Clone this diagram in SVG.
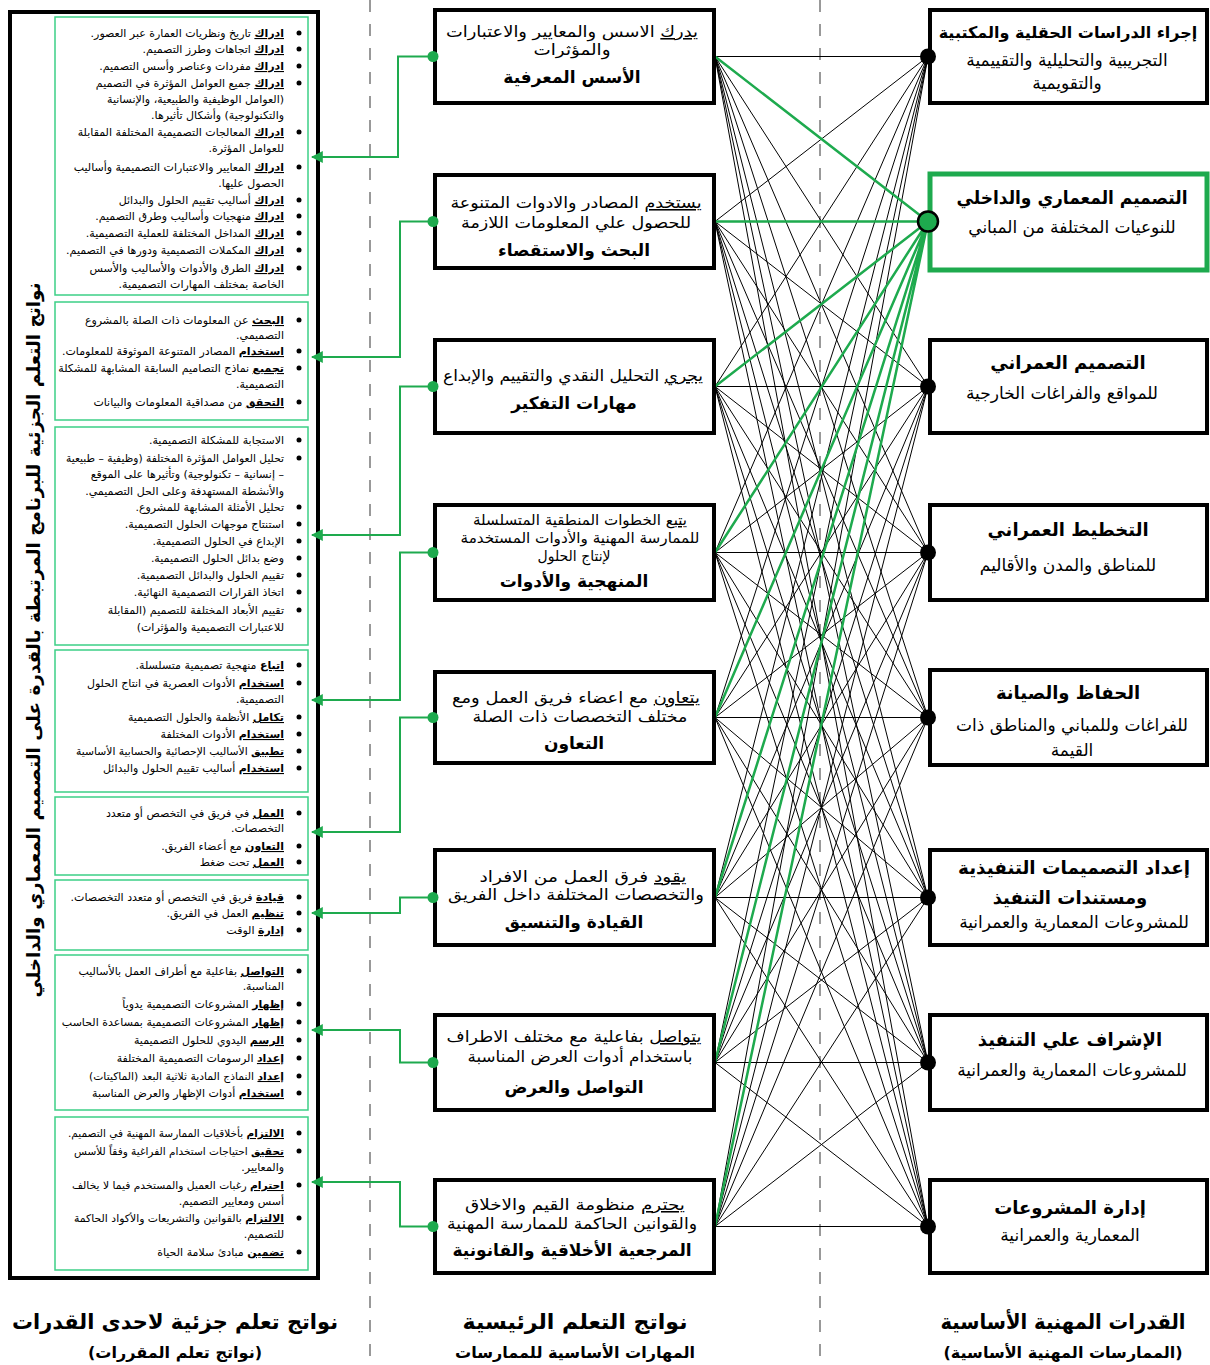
<svg xmlns="http://www.w3.org/2000/svg" width="1210" height="1365" viewBox="0 0 1210 1365">
<style>
text{font-family:"DejaVu Sans",sans-serif;fill:#000;direction:rtl;unicode-bidi:embed}
.lt{font-size:11px;text-anchor:start}
.u{text-decoration:underline;font-weight:bold}
.un{text-decoration:underline}
.mt{font-size:15.5px;text-anchor:middle}
.mb{font-size:17px;font-weight:bold;text-anchor:middle}
.rt{font-size:17px;text-anchor:middle}
.rb{font-size:18px;font-weight:bold;text-anchor:middle}
.hd{font-size:21px;font-weight:bold;text-anchor:middle}
.sh{font-size:16px;font-weight:bold;text-anchor:middle}
.gbox{fill:#fff;stroke:#3ccf86;stroke-width:1.5}
.box{fill:#fff;stroke:#000;stroke-width:4}
.blt{fill:#000}
.bl{stroke:#000;stroke-width:1;fill:none}
.gl{stroke:#1eaa4e;stroke-width:2.5;fill:none}
.ar{stroke:#1eaa4e;stroke-width:2;fill:none}
.dash{stroke:#999;stroke-width:2;stroke-dasharray:12 12}
</style>
<defs>
<marker id="ah" viewBox="0 0 10 10" refX="9" refY="5" markerWidth="6" markerHeight="6" orient="auto" markerUnits="strokeWidth">
<path d="M0 0L10 5L0 10z" fill="#1eaa4e"/>
</marker>
</defs>
<rect width="1210" height="1365" fill="#fff"/>
<line class="dash" x1="370" y1="0" x2="370" y2="1365"/>
<line class="dash" x1="820" y1="0" x2="820" y2="1365"/>

<g id="left-panel">
<rect x="10" y="12" width="308" height="1266" fill="#fff" stroke="#000" stroke-width="4"/>
<text transform="translate(40,640) rotate(-90)" class="hd" style="font-size:18px" textLength="715" lengthAdjust="spacingAndGlyphs">نواتج التعلم الجزئية للبرنامج المرتبطة بالقدرة على التصميم المعماري والداخلي</text>
</g>

<g id="lo-1">
<rect class="gbox" x="55" y="17" width="253" height="278"/>
<g class="blt"><circle cx="299" cy="33" r="2.5"/><circle cx="299" cy="49" r="2.5"/><circle cx="299" cy="66" r="2.5"/><circle cx="299" cy="83" r="2.5"/><circle cx="299" cy="132" r="2.5"/><circle cx="299" cy="167" r="2.5"/><circle cx="299" cy="200" r="2.5"/><circle cx="299" cy="216" r="2.5"/><circle cx="299" cy="233" r="2.5"/><circle cx="299" cy="250" r="2.5"/><circle cx="299" cy="268" r="2.5"/></g>
<text class="lt" x="284" y="37"><tspan class="u">ادراك</tspan> تاريخ ونظريات العمارة عبر العصور.</text>
<text class="lt" x="284" y="53"><tspan class="u">ادراك</tspan> اتجاهات وطرز التصميم.</text>
<text class="lt" x="284" y="70"><tspan class="u">ادراك</tspan> مفردات وعناصر وأسس التصميم.</text>
<text class="lt" x="284" y="87"><tspan class="u">ادراك</tspan> جميع العوامل المؤثرة في التصميم</text>
<text class="lt" x="284" y="103">(العوامل الوظيفية والطبيعية، والإنسانية</text>
<text class="lt" x="284" y="119">والتكنولوجية) وأشكال تأثيرها.</text>
<text class="lt" x="284" y="136"><tspan class="u">ادراك</tspan> المعالجات التصميمية المختلفة المقابلة</text>
<text class="lt" x="284" y="152">للعوامل المؤثرة.</text>
<text class="lt" x="284" y="171"><tspan class="u">ادراك</tspan> المعايير والاعتبارات التصميمية وأساليب</text>
<text class="lt" x="284" y="187">الحصول عليها.</text>
<text class="lt" x="284" y="204"><tspan class="u">ادراك</tspan> أساليب تقييم الحلول والبدائل</text>
<text class="lt" x="284" y="220"><tspan class="u">ادراك</tspan> منهجيات وأساليب وطرق التصميم.</text>
<text class="lt" x="284" y="237"><tspan class="u">ادراك</tspan> المداخل المختلفة للعملية التصميمية.</text>
<text class="lt" x="284" y="254"><tspan class="u">ادراك</tspan> المكملات التصميمية ودورها في التصميم.</text>
<text class="lt" x="284" y="272"><tspan class="u">ادراك</tspan> الطرق والأدوات والأساليب والأسس</text>
<text class="lt" x="284" y="288">الخاصة بمختلف المهارات التصميمية.</text>
</g>

<g id="lo-2">
<rect class="gbox" x="55" y="302" width="253" height="118"/>
<g class="blt"><circle cx="299" cy="320" r="2.5"/><circle cx="299" cy="351" r="2.5"/><circle cx="299" cy="368" r="2.5"/><circle cx="299" cy="402" r="2.5"/></g>
<text class="lt" x="284" y="324"><tspan class="u">البحث</tspan> عن المعلومات ذات الصلة بالمشروع</text>
<text class="lt" x="284" y="339">التصميمي.</text>
<text class="lt" x="284" y="355"><tspan class="u">استخدام</tspan> المصادر المتنوعة الموثوقة للمعلومات.</text>
<text class="lt" x="284" y="372"><tspan class="u">تجميع</tspan> نماذج التصاميم السابقة المشابهة للمشكلة</text>
<text class="lt" x="284" y="388">التصميمية.</text>
<text class="lt" x="284" y="406"><tspan class="u">التحقق</tspan> من مصداقية المعلومات والبيانات</text>
</g>

<g id="lo-3">
<rect class="gbox" x="55" y="427" width="253" height="218"/>
<g class="blt"><circle cx="299" cy="440" r="2.5"/><circle cx="299" cy="458" r="2.5"/><circle cx="299" cy="507" r="2.5"/><circle cx="299" cy="524" r="2.5"/><circle cx="299" cy="541" r="2.5"/><circle cx="299" cy="558" r="2.5"/><circle cx="299" cy="575" r="2.5"/><circle cx="299" cy="592" r="2.5"/><circle cx="299" cy="610" r="2.5"/></g>
<text class="lt" x="284" y="444">الاستجابة للمشكلة التصميمية.</text>
<text class="lt" x="284" y="462" textLength="218" lengthAdjust="spacingAndGlyphs">تحليل العوامل المؤثرة المختلفة (وظيفية – طبيعية</text>
<text class="lt" x="284" y="478">– إنسانية – تكنولوجية) وتأثيرها على الموقع</text>
<text class="lt" x="284" y="495">والأنشطة المستهدفة وعلى الحل التصميمي.</text>
<text class="lt" x="284" y="511">تحليل الأمثلة المشابهة للمشروع.</text>
<text class="lt" x="284" y="528">استنتاج موجهات الحلول التصميمية.</text>
<text class="lt" x="284" y="545">الإبداع في الحلول التصميمية.</text>
<text class="lt" x="284" y="562">وضع بدائل الحلول التصميمية.</text>
<text class="lt" x="284" y="579">تقييم الحلول والبدائل التصميمية.</text>
<text class="lt" x="284" y="596">اتخاذ القرارات التصميمية النهائية.</text>
<text class="lt" x="284" y="614">تقييم الأبعاد المختلفة للتصميم (المقابلة</text>
<text class="lt" x="284" y="631">للاعتبارات التصميمية والمؤثرات)</text>
</g>

<g id="lo-4">
<rect class="gbox" x="55" y="650" width="253" height="142"/>
<g class="blt"><circle cx="299" cy="665" r="2.5"/><circle cx="299" cy="683" r="2.5"/><circle cx="299" cy="717" r="2.5"/><circle cx="299" cy="734" r="2.5"/><circle cx="299" cy="751" r="2.5"/><circle cx="299" cy="768" r="2.5"/></g>
<text class="lt" x="284" y="669"><tspan class="u">اتباع</tspan> منهجية تصميمية متسلسلة.</text>
<text class="lt" x="284" y="687"><tspan class="u">استخدام</tspan> الأدوات العصرية في انتاج الحلول</text>
<text class="lt" x="284" y="703">التصميمية.</text>
<text class="lt" x="284" y="721"><tspan class="u">تكامل</tspan> الأنظمة والحلول التصميمية</text>
<text class="lt" x="284" y="738"><tspan class="u">استخدام</tspan> الأدوات المختلفة</text>
<text class="lt" x="284" y="755" style="font-size:10.5px" textLength="208" lengthAdjust="spacingAndGlyphs"><tspan class="u">تطبيق</tspan> الأساليب الإحصائية والحسابية الأساسية</text>
<text class="lt" x="284" y="772"><tspan class="u">استخدام</tspan> أساليب تقييم الحلول والبدائل</text>
</g>

<g id="lo-5">
<rect class="gbox" x="55" y="797" width="253" height="78"/>
<g class="blt"><circle cx="299" cy="813" r="2.5"/><circle cx="299" cy="846" r="2.5"/><circle cx="299" cy="862" r="2.5"/></g>
<text class="lt" x="284" y="817"><tspan class="u">العمل</tspan> في فريق في التخصص أو متعدد</text>
<text class="lt" x="284" y="832">التخصصات.</text>
<text class="lt" x="284" y="850"><tspan class="u">التعاون</tspan> مع أعضاء الفريق.</text>
<text class="lt" x="284" y="866"><tspan class="u">العمل</tspan> تحت ضغط</text>
</g>

<g id="lo-6">
<rect class="gbox" x="55" y="880" width="253" height="70"/>
<g class="blt"><circle cx="299" cy="897" r="2.5"/><circle cx="299" cy="913" r="2.5"/><circle cx="299" cy="930" r="2.5"/></g>
<text class="lt" x="284" y="901"><tspan class="u">قيادة</tspan> فريق في التخصص أو متعدد التخصصات.</text>
<text class="lt" x="284" y="917"><tspan class="u">تنظيم</tspan> العمل في الفريق.</text>
<text class="lt" x="284" y="934"><tspan class="u">إدارة</tspan> الوقت</text>
</g>

<g id="lo-7">
<rect class="gbox" x="55" y="955" width="253" height="155"/>
<g class="blt"><circle cx="299" cy="971" r="2.5"/><circle cx="299" cy="1004" r="2.5"/><circle cx="299" cy="1022" r="2.5"/><circle cx="299" cy="1040" r="2.5"/><circle cx="299" cy="1058" r="2.5"/><circle cx="299" cy="1076" r="2.5"/><circle cx="299" cy="1093" r="2.5"/></g>
<text class="lt" x="284" y="975"><tspan class="u">التواصل</tspan> بفاعلية مع أطراف العمل بالأساليب</text>
<text class="lt" x="284" y="990">المناسبة.</text>
<text class="lt" x="284" y="1008"><tspan class="u">إظهار</tspan> المشروعات التصميمية يدوياً</text>
<text class="lt" x="284" y="1026"><tspan class="u">إظهار</tspan> المشروعات التصميمية بمساعدة الحاسب</text>
<text class="lt" x="284" y="1044"><tspan class="u">الرسم</tspan> اليدوي للحلول التصميمية</text>
<text class="lt" x="284" y="1062"><tspan class="u">إعداد</tspan> الرسومات التصميمية المختلفة</text>
<text class="lt" x="284" y="1080" style="font-size:10.5px" textLength="195" lengthAdjust="spacingAndGlyphs"><tspan class="u">إعداد</tspan> النماذج المادية ثلاثية البعد (الماكيتات)</text>
<text class="lt" x="284" y="1097"><tspan class="u">استخدام</tspan> أدوات الإظهار والعرض المناسبة</text>
</g>

<g id="lo-8">
<rect class="gbox" x="55" y="1117" width="253" height="153"/>
<g class="blt"><circle cx="299" cy="1133" r="2.5"/><circle cx="299" cy="1151" r="2.5"/><circle cx="299" cy="1185" r="2.5"/><circle cx="299" cy="1218" r="2.5"/><circle cx="299" cy="1252" r="2.5"/></g>
<text class="lt" x="284" y="1137" style="font-size:10.5px" textLength="216" lengthAdjust="spacingAndGlyphs"><tspan class="u">الالتزام</tspan> بأخلاقيات الممارسة المهنية في التصميم.</text>
<text class="lt" x="284" y="1155" style="font-size:10.5px" textLength="210" lengthAdjust="spacingAndGlyphs"><tspan class="u">تحقيق</tspan> احتياجات استخدام الفراغية وفقاً للأسس</text>
<text class="lt" x="284" y="1171">والمعايير.</text>
<text class="lt" x="284" y="1189" style="font-size:10.5px" textLength="212" lengthAdjust="spacingAndGlyphs"><tspan class="u">احترام</tspan> رغبات العميل والمستخدم فيما لا يخالف</text>
<text class="lt" x="284" y="1205">أسس ومعايير التصميم.</text>
<text class="lt" x="284" y="1222" style="font-size:10.5px" textLength="210" lengthAdjust="spacingAndGlyphs"><tspan class="u">الالتزام</tspan> بالقوانين والتشريعات والأكواد الحاكمة</text>
<text class="lt" x="284" y="1238">للتصميم.</text>
<text class="lt" x="284" y="1256"><tspan class="u">تضمين</tspan> مبادئ سلامة الحياة</text>
</g>

<g id="connectors">
<path class="bl" d="M715 56.5L928 56.5M715 56.5L928 221.5M715 56.5L928 386.5M715 56.5L928 552.5M715 56.5L928 717.5M715 56.5L928 897.5M715 56.5L928 1062.5M715 56.5L928 1226.5"/>
<path class="bl" d="M715 221.5L928 56.5M715 221.5L928 221.5M715 221.5L928 386.5M715 221.5L928 552.5M715 221.5L928 717.5M715 221.5L928 897.5M715 221.5L928 1062.5M715 221.5L928 1226.5"/>
<path class="bl" d="M715 386.5L928 56.5M715 386.5L928 221.5M715 386.5L928 386.5M715 386.5L928 552.5M715 386.5L928 717.5M715 386.5L928 897.5M715 386.5L928 1062.5M715 386.5L928 1226.5"/>
<path class="bl" d="M715 552.5L928 56.5M715 552.5L928 221.5M715 552.5L928 386.5M715 552.5L928 552.5M715 552.5L928 717.5M715 552.5L928 897.5M715 552.5L928 1062.5M715 552.5L928 1226.5"/>
<path class="bl" d="M715 717.5L928 56.5M715 717.5L928 221.5M715 717.5L928 386.5M715 717.5L928 552.5M715 717.5L928 717.5M715 717.5L928 897.5M715 717.5L928 1062.5M715 717.5L928 1226.5"/>
<path class="bl" d="M715 897.5L928 56.5M715 897.5L928 221.5M715 897.5L928 386.5M715 897.5L928 552.5M715 897.5L928 717.5M715 897.5L928 897.5M715 897.5L928 1062.5M715 897.5L928 1226.5"/>
<path class="bl" d="M715 1062.5L928 56.5M715 1062.5L928 221.5M715 1062.5L928 386.5M715 1062.5L928 552.5M715 1062.5L928 717.5M715 1062.5L928 897.5M715 1062.5L928 1062.5M715 1062.5L928 1226.5"/>
<path class="bl" d="M715 1226.5L928 56.5M715 1226.5L928 221.5M715 1226.5L928 386.5M715 1226.5L928 552.5M715 1226.5L928 717.5M715 1226.5L928 897.5M715 1226.5L928 1062.5M715 1226.5L928 1226.5"/>
<path class="gl" d="M715 56.5L928 221.5M715 221.5L928 221.5M715 386.5L928 221.5M715 552.5L928 221.5M715 717.5L928 221.5M715 897.5L928 221.5M715 1062.5L928 221.5M715 1226.5L928 221.5"/>
<path class="ar" marker-end="url(#ah)" d="M432 56.5H398V157H312"/>
<path class="ar" marker-end="url(#ah)" d="M432 221.5H400V357H312"/>
<path class="ar" marker-end="url(#ah)" d="M432 386.5H400V535H312"/>
<path class="ar" marker-end="url(#ah)" d="M432 552.5H400V700H312"/>
<path class="ar" marker-end="url(#ah)" d="M432 717.5H400V832H312"/>
<path class="ar" marker-end="url(#ah)" d="M432 897.5H400V913H312"/>
<path class="ar" marker-end="url(#ah)" d="M432 1062.5H400V1030H312"/>
<path class="ar" marker-end="url(#ah)" d="M432 1226.5H400V1182H312"/>
</g>

<g id="m-1"><rect class="box" x="435" y="10" width="279" height="93"/>
<text class="mt" x="572" y="37" textLength="252" lengthAdjust="spacingAndGlyphs"><tspan class="un">يدرك</tspan> الاسس والمعايير والاعتبارات</text>
<text class="mt" x="572" y="55" textLength="77" lengthAdjust="spacingAndGlyphs">والمؤثرات</text>
<text class="mb" x="572" y="83">الأسس المعرفية</text>
<circle cx="433" cy="56.5" r="5.5" fill="#1eaa4e"/></g>

<g id="m-2"><rect class="box" x="435" y="175" width="279" height="93"/>
<text class="mt" x="576" y="208" textLength="251" lengthAdjust="spacingAndGlyphs"><tspan class="un">يستخدم</tspan> المصادر والادوات المتنوعة</text>
<text class="mt" x="576" y="228" textLength="230" lengthAdjust="spacingAndGlyphs">للحصول علي المعلومات اللازمة</text>
<text class="mb" x="574" y="256">البحث والاستقصاء</text>
<circle cx="433" cy="221.5" r="5.5" fill="#1eaa4e"/></g>

<g id="m-3"><rect class="box" x="435" y="340" width="279" height="93"/>
<text class="mt" x="573" y="381" textLength="260" lengthAdjust="spacingAndGlyphs"><tspan class="un">يجري</tspan> التحليل النقدي والتقييم والإبداع</text>
<text class="mb" x="574" y="409">مهارات التفكير</text>
<circle cx="433" cy="386.5" r="5.5" fill="#1eaa4e"/></g>

<g id="m-4"><rect class="box" x="435" y="505" width="279" height="95"/>
<text class="mt" x="580" y="525" style="font-size:14.5px" textLength="214" lengthAdjust="spacingAndGlyphs"><tspan class="un">يتبع</tspan> الخطوات المنطقية المتسلسلة</text>
<text class="mt" x="580" y="543" style="font-size:14.5px" textLength="239" lengthAdjust="spacingAndGlyphs">للممارسة المهنية والأدوات المستخدمة</text>
<text class="mt" x="574" y="561" style="font-size:14.5px" textLength="73" lengthAdjust="spacingAndGlyphs">لإنتاج الحلول</text>
<text class="mb" x="574" y="587">المنهجية والأدوات</text>
<circle cx="433" cy="552.5" r="5.5" fill="#1eaa4e"/></g>

<g id="m-5"><rect class="box" x="435" y="672" width="279" height="91"/>
<text class="mt" x="576" y="703" textLength="248" lengthAdjust="spacingAndGlyphs"><tspan class="un">يتعاون</tspan> مع اعضاء فريق العمل ومع</text>
<text class="mt" x="580" y="722" textLength="215" lengthAdjust="spacingAndGlyphs">مختلف التخصصات ذات الصلة</text>
<text class="mb" x="574" y="749">التعاون</text>
<circle cx="433" cy="717.5" r="5.5" fill="#1eaa4e"/></g>

<g id="m-6"><rect class="box" x="435" y="850" width="279" height="95"/>
<text class="mt" x="583" y="882" textLength="207" lengthAdjust="spacingAndGlyphs"><tspan class="un">يقود</tspan> فرق العمل من الافراد</text>
<text class="mt" x="576" y="900" textLength="256" lengthAdjust="spacingAndGlyphs">والتخصصات المختلفة داخل الفريق</text>
<text class="mb" x="574" y="928">القيادة والتنسيق</text>
<circle cx="433" cy="897.5" r="5.5" fill="#1eaa4e"/></g>

<g id="m-7"><rect class="box" x="435" y="1015" width="279" height="95"/>
<text class="mt" x="574" y="1042" textLength="255" lengthAdjust="spacingAndGlyphs"><tspan class="un">يتواصل</tspan> بفاعلية مع مختلف الاطراف</text>
<text class="mt" x="580" y="1062" textLength="225" lengthAdjust="spacingAndGlyphs">باستخدام أدوات العرض المناسبة</text>
<text class="mb" x="574" y="1093">التواصل والعرض</text>
<circle cx="433" cy="1062.5" r="5.5" fill="#1eaa4e"/></g>

<g id="m-8"><rect class="box" x="435" y="1180" width="279" height="93"/>
<text class="mt" x="575" y="1210" textLength="220" lengthAdjust="spacingAndGlyphs"><tspan class="un">يحترم</tspan> منظومة القيم والاخلاق</text>
<text class="mt" x="572" y="1229" textLength="250" lengthAdjust="spacingAndGlyphs">والقوانين الحاكمة للممارسة المهنية</text>
<text class="mb" x="572" y="1256">المرجعية الأخلاقية والقانونية</text>
<circle cx="433" cy="1226.5" r="5.5" fill="#1eaa4e"/></g>

<g id="r-1"><rect class="box" x="930" y="10" width="277" height="93"/>
<text class="rb" x="1068" y="38" style="font-size:16px">إجراء الدراسات الحقلية والمكتبية</text>
<text class="rt" x="1067" y="66">التجريبية والتحليلية والتقييمية</text>
<text class="rt" x="1067" y="89">والتقويمية</text>
<circle cx="928" cy="56.5" r="8" fill="#000"/></g>

<g id="r-2"><rect x="930" y="174" width="277" height="96" fill="#fff" stroke="#1eaa4e" stroke-width="5"/>
<text class="rb" x="1072" y="204" textLength="231" lengthAdjust="spacingAndGlyphs">التصميم المعماري والداخلي</text>
<text class="rt" x="1072" y="233">للنوعيات المختلفة من المباني</text>
<circle cx="928" cy="221.5" r="10" fill="#1eaa4e" stroke="#000" stroke-width="2.5"/></g>

<g id="r-3"><rect class="box" x="930" y="340" width="277" height="93"/>
<text class="rb" x="1068" y="369">التصميم العمراني</text>
<text class="rt" x="1062" y="399">للمواقع والفراغات الخارجية</text>
<circle cx="928" cy="386.5" r="8" fill="#000"/></g>

<g id="r-4"><rect class="box" x="930" y="505" width="277" height="95"/>
<text class="rb" x="1068" y="536">التخطيط العمراني</text>
<text class="rt" x="1068" y="571">للمناطق والمدن والأقاليم</text>
<circle cx="928" cy="552.5" r="8" fill="#000"/></g>

<g id="r-5"><rect class="box" x="930" y="670" width="277" height="95"/>
<text class="rb" x="1068" y="699">الحفاظ والصيانة</text>
<text class="rt" x="1072" y="731">للفراغات وللمباني والمناطق ذات</text>
<text class="rt" x="1072" y="756">القيمة</text>
<circle cx="928" cy="717.5" r="8" fill="#000"/></g>

<g id="r-6"><rect class="box" x="930" y="850" width="277" height="95"/>
<text class="rb" x="1074" y="874" textLength="232" lengthAdjust="spacingAndGlyphs">إعداد التصميمات التنفيذية</text>
<text class="rb" x="1070" y="904">ومستندات التنفيذ</text>
<text class="rt" x="1074" y="928">للمشروعات المعمارية والعمرانية</text>
<circle cx="928" cy="897.5" r="8" fill="#000"/></g>

<g id="r-7"><rect class="box" x="930" y="1015" width="277" height="95"/>
<text class="rb" x="1070" y="1046">الإشراف علي التنفيذ</text>
<text class="rt" x="1072" y="1076">للمشروعات المعمارية والعمرانية</text>
<circle cx="928" cy="1062.5" r="8" fill="#000"/></g>

<g id="r-8"><rect class="box" x="930" y="1180" width="277" height="93"/>
<text class="rb" x="1070" y="1214">إدارة المشروعات</text>
<text class="rt" x="1070" y="1241">المعمارية والعمرانية</text>
<circle cx="928" cy="1226.5" r="8" fill="#000"/></g>

<g id="captions">
<text class="hd" x="175" y="1329" textLength="326" lengthAdjust="spacingAndGlyphs">نواتج تعلم جزئية لاحدى القدرات</text>
<text class="sh" x="175" y="1358" textLength="174" lengthAdjust="spacingAndGlyphs">(نواتج تعلم المقررات)</text>
<text class="hd" x="575" y="1329" textLength="225" lengthAdjust="spacingAndGlyphs">نواتج التعلم الرئيسية</text>
<text class="sh" x="575" y="1358" textLength="240" lengthAdjust="spacingAndGlyphs">المهارات الأساسية للممارسات</text>
<text class="hd" x="1063" y="1329" textLength="245" lengthAdjust="spacingAndGlyphs">القدرات المهنية الأساسية</text>
<text class="sh" x="1063" y="1358" textLength="239" lengthAdjust="spacingAndGlyphs">(الممارسات المهنية الأساسية)</text>
</g>
</svg>
